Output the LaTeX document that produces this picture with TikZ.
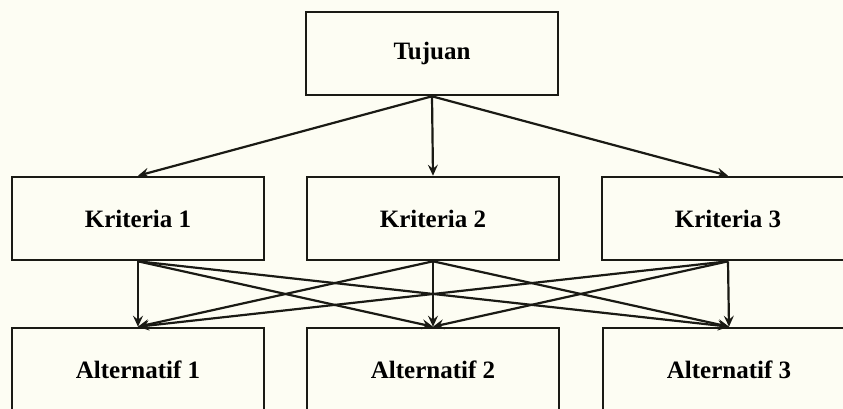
\documentclass[tikz,border=0pt]{standalone}
\usepackage{fontspec}
\setmainfont{Liberation Serif}
\usetikzlibrary{arrows.meta}
\definecolor{bg}{HTML}{FDFDF3}
\definecolor{ink}{HTML}{1A1A14}
\begin{document}
\begin{tikzpicture}[x=1pt,y=-1pt,
  box/.style={draw=ink, line width=2.6pt, minimum width=252pt, minimum height=83pt, inner sep=0pt,
    font=\fontsize{25}{29}\selectfont\bfseries, text=black},
  conn/.style={draw=ink, line width=2.2pt, -{Stealth[length=11pt,width=10pt,inset=4pt]}}]
\clip (0,0) rectangle (843,409);
\fill[bg] (0,0) rectangle (843,409);
\node[box] (t) at (432,53.5) {Tujuan};
\node[box] (k1) at (138,218.5) {Kriteria 1};
\node[box] (k2) at (433,218.5) {Kriteria 2};
\node[box] (k3) at (728,218.5) {Kriteria 3};
\node[box] (a1) at (138,369.5) {Alternatif 1};
\node[box] (a2) at (433,369.5) {Alternatif 2};
\node[box] (a3) at (729,369.5) {Alternatif 3};
\foreach \k in {k1,k2,k3} {\draw[conn] (t.south) -- (\k.north);}
\foreach \k in {k1,k2,k3} {
  \foreach \a in {a1,a2,a3} {\draw[conn] (\k.south) -- (\a.north);}
}
\end{tikzpicture}
\end{document}
